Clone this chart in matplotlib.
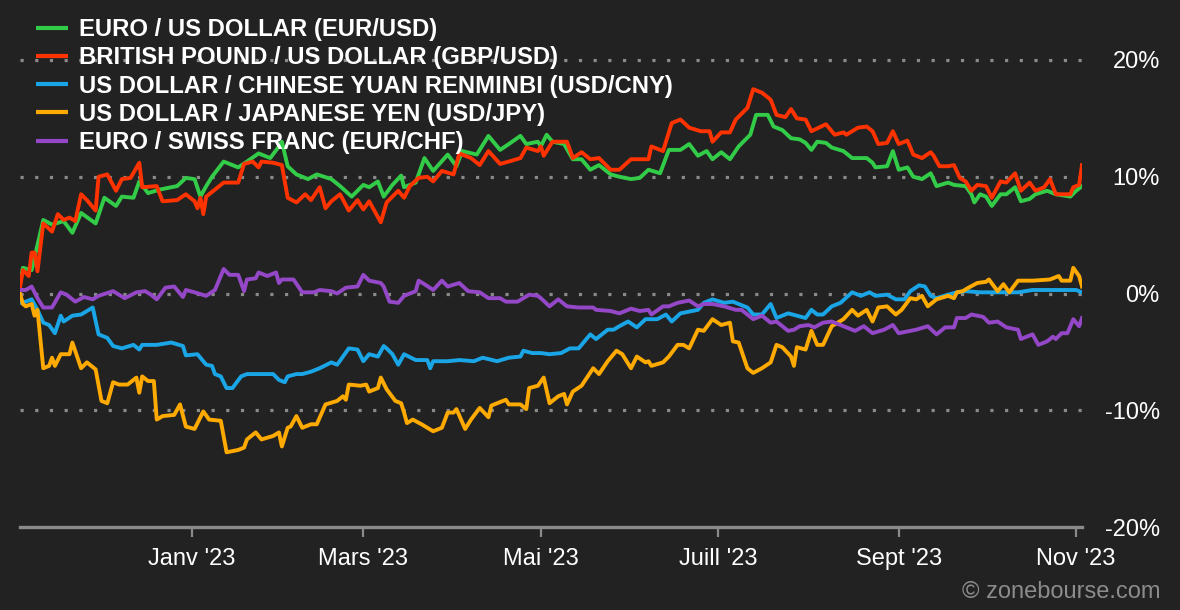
import pandas as pd
import matplotlib
matplotlib.use("Agg")
import matplotlib.pyplot as plt
from matplotlib.ticker import FuncFormatter

# --- DATA (percent change since start) ---
START = pd.Timestamp("2022-11-03")
END_DAY = 365

eur_usd_days = [0, 1, 4, 8, 11, 15, 18, 21, 26, 29, 33, 35, 39, 41, 44, 48, 54, 57, 60, 62,
                64, 66, 70, 75, 78, 82, 86, 89, 90, 92, 95, 99, 102, 107, 110, 114, 118, 120, 123, 125,
                128, 131, 132, 136, 139, 142, 147, 150, 152, 157, 161, 165, 168, 172, 174, 178, 179, 181, 183, 187,
                190, 193, 196, 199, 203, 206, 210, 213, 216, 220, 223, 227, 230, 233, 236, 238, 241, 244, 247, 251,
                253, 257, 259, 262, 265, 268, 270, 272, 274, 277, 279, 283, 286, 291, 293, 294, 298, 300, 302, 305,
                307, 310, 313, 315, 319, 321, 325, 327, 328, 330, 332, 334, 337, 339, 342, 344, 347, 349, 353, 356,
                361, 363, 365]
eur_usd_pct = [1.0, 2.2, 2.0, 6.3, 5.9, 6.2, 5.2, 6.9, 6.0, 8.2, 7.5, 8.3, 8.2, 9.6, 8.6, 8.9, 9.2, 9.9, 9.8, 8.3,
               9.2, 10.0, 11.3, 10.8, 11.3, 12.0, 11.6, 12.6, 13.0, 10.9, 10.2, 9.8, 10.2, 9.8, 9.2, 8.3, 9.3, 9.1, 9.6, 8.3,
               9.3, 10.1, 9.1, 9.5, 11.6, 10.5, 11.9, 10.9, 12.2, 11.9, 13.5, 12.3, 12.8, 13.5, 12.8, 13.0, 12.6, 13.6, 13.0, 12.8,
               11.5, 11.5, 10.6, 11.0, 10.2, 10.0, 9.8, 9.9, 10.6, 10.3, 12.3, 12.3, 12.8, 11.8, 12.2, 11.5, 12.1, 11.5, 12.6, 13.6,
               15.3, 15.3, 14.3, 14.0, 13.3, 13.2, 12.9, 12.3, 13.0, 12.9, 12.5, 12.2, 11.6, 11.6, 11.2, 10.8, 10.9, 12.2, 10.6, 10.8,
               10.0, 9.8, 10.3, 9.2, 9.5, 9.3, 9.2, 8.5, 7.8, 8.5, 8.3, 7.5, 8.5, 8.5, 9.1, 7.9, 8.1, 8.5, 8.8, 8.5,
               8.3, 8.8, 9.2]

gbp_usd_days = [0, 1, 3, 4, 5, 6, 8, 11, 13, 15, 17, 19, 21, 23, 26, 27, 30, 33, 35, 38,
                41, 42, 47, 49, 54, 57, 60, 61, 62, 63, 64, 67, 70, 75, 77, 80, 82, 83, 87, 90,
                92, 95, 98, 100, 103, 105, 107, 110, 113, 116, 118, 120, 124, 126, 130, 132, 134, 137, 140, 142,
                145, 149, 151, 155, 158, 161, 165, 168, 172, 174, 178, 179, 180, 183, 188, 190, 193, 196, 199, 203,
                206, 210, 212, 216, 217, 221, 224, 227, 230, 234, 237, 238, 241, 244, 246, 250, 252, 255, 258, 260,
                263, 265, 267, 270, 272, 277, 280, 283, 284, 288, 291, 293, 295, 298, 300, 302, 305, 307, 310, 313,
                314, 316, 319, 321, 323, 325, 327, 329, 332, 334, 337, 339, 342, 344, 347, 349, 352, 354, 356, 358,
                361, 362, 364, 365]
gbp_usd_pct = [0.5, 2.0, 1.5, 3.5, 3.5, 1.9, 6.0, 5.3, 6.8, 6.3, 6.5, 6.2, 8.5, 8.0, 7.1, 10.0, 10.2, 8.8, 9.8, 9.9,
               11.2, 9.1, 9.2, 7.9, 8.0, 8.5, 7.9, 7.3, 8.2, 6.8, 8.3, 8.9, 9.5, 9.5, 11.1, 11.3, 10.8, 11.3, 11.2, 11.0,
               8.2, 7.8, 8.5, 8.0, 9.1, 7.3, 7.9, 8.5, 7.1, 8.0, 7.2, 7.9, 6.1, 7.8, 8.8, 8.2, 9.2, 9.9, 10.0, 9.6,
               10.5, 10.2, 12.0, 11.6, 11.0, 12.2, 11.1, 11.3, 11.6, 12.5, 12.2, 12.6, 11.8, 13.0, 13.0, 11.6, 12.1, 11.5, 11.6, 10.6,
               10.6, 11.5, 11.5, 11.5, 12.6, 12.2, 14.6, 14.9, 14.2, 13.9, 13.9, 13.0, 13.8, 13.8, 14.9, 15.9, 17.5, 17.2, 16.6, 15.3,
               15.1, 15.8, 15.0, 14.9, 13.9, 14.5, 13.6, 13.8, 13.6, 14.2, 14.3, 13.9, 12.8, 12.9, 13.9, 12.8, 13.1, 11.9, 11.6, 12.1,
               11.8, 10.9, 10.9, 11.0, 9.9, 9.6, 8.8, 9.3, 9.2, 8.2, 9.6, 9.5, 10.3, 8.8, 9.5, 8.8, 9.1, 9.8, 8.5, 8.5,
               8.5, 9.1, 9.3, 11.0]

usd_cny_days = [0, 2, 4, 6, 8, 10, 12, 14, 15, 18, 21, 25, 27, 30, 32, 35, 39, 41, 42, 47,
                52, 56, 57, 61, 64, 66, 67, 69, 71, 73, 76, 78, 82, 87, 89, 91, 92, 95, 97, 100,
                103, 107, 109, 113, 116, 118, 120, 123, 125, 126, 128, 130, 132, 136, 140, 141, 142, 147, 151, 156,
                159, 164, 168, 172, 173, 176, 179, 182, 186, 189, 192, 196, 198, 202, 204, 206, 209, 212, 215, 219,
                222, 224, 227, 233, 235, 238, 242, 245, 246, 250, 252, 255, 258, 260, 264, 267, 270, 272, 274, 276,
                279, 282, 286, 289, 292, 294, 298, 301, 304, 306, 309, 311, 313, 315, 319, 322, 325, 330, 337, 343,
                348, 355, 360, 363, 365]
usd_cny_pct = [-0.8, -0.7, -0.5, -1.4, -2.5, -2.7, -3.4, -1.9, -2.4, -1.9, -1.8, -1.2, -3.5, -3.8, -4.5, -4.7, -4.4, -4.8, -4.4, -4.4,
               -4.2, -4.5, -5.3, -5.2, -6.1, -6.2, -6.9, -7.1, -8.1, -8.1, -7.1, -6.9, -6.9, -6.9, -7.4, -7.6, -7.1, -6.9, -6.9, -6.7,
               -6.4, -5.9, -6.1, -4.7, -4.8, -5.8, -5.2, -5.4, -4.5, -4.7, -5.2, -6.1, -5.2, -5.7, -5.7, -6.4, -5.8, -5.8, -5.7, -5.8,
               -5.5, -5.8, -5.5, -5.4, -4.9, -5.1, -5.1, -5.2, -5.1, -4.7, -4.7, -3.5, -3.9, -3.1, -3.1, -2.8, -2.4, -2.9, -2.2, -2.2,
               -1.8, -2.4, -1.7, -1.4, -0.8, -0.5, -0.8, -0.7, -0.8, -1.2, -1.8, -1.8, -0.9, -2.1, -1.7, -1.9, -2.1, -1.4, -1.8, -1.8,
               -1.1, -0.8, 0.1, -0.2, 0.1, -0.2, -0.1, -0.5, -0.5, 0.2, 0.7, 0.6, -0.2, -0.4, -0.1, 0.1, 0.2, 0.1, 0.1, 0.1,
               0.3, 0.3, 0.3, 0.3, 0.1]

usd_jpy_days = [0, 1, 2, 4, 5, 6, 8, 10, 11, 12, 14, 17, 18, 21, 23, 26, 28, 30, 32, 34,
                37, 40, 41, 42, 44, 46, 47, 49, 53, 55, 57, 60, 63, 65, 69, 71, 75, 77, 78, 81,
                83, 87, 89, 90, 92, 93, 95, 97, 100, 102, 105, 109, 111, 112, 113, 117, 119, 120, 123, 124,
                126, 129, 131, 132, 133, 135, 138, 140, 142, 145, 147, 149, 150, 153, 155, 158, 161, 162, 166, 167,
                168, 172, 174, 175, 178, 180, 182, 185, 187, 188, 190, 193, 197, 199, 202, 205, 207, 210, 212, 215,
                216, 217, 221, 223, 226, 228, 230, 233, 235, 238, 241, 244, 245, 247, 250, 252, 255, 258, 260, 262,
                265, 266, 267, 270, 272, 274, 276, 279, 283, 286, 288, 291, 293, 295, 298, 301, 303, 306, 308, 310,
                312, 315, 319, 321, 322, 324, 326, 329, 332, 333, 336, 338, 340, 343, 348, 354, 357, 358, 361, 362,
                364, 365]
usd_jpy_pct = [0.0, -0.9, -1.1, -0.9, -1.9, -1.4, -6.4, -6.2, -5.5, -6.2, -5.2, -5.2, -4.2, -6.4, -5.9, -6.5, -9.2, -9.4, -7.6, -7.8,
               -7.8, -7.2, -8.5, -7.1, -7.5, -7.5, -10.8, -10.5, -10.4, -9.5, -11.4, -11.6, -10.1, -10.8, -10.9, -13.6, -13.4, -13.2, -12.5, -11.9,
               -12.5, -12.2, -11.9, -13.1, -11.5, -11.4, -10.5, -11.5, -11.2, -11.2, -9.5, -9.2, -8.8, -9.1, -7.8, -7.9, -7.8, -8.4, -8.1, -7.2,
               -8.2, -9.2, -9.4, -10.2, -11.1, -10.8, -11.2, -11.5, -11.8, -11.5, -10.2, -10.2, -9.9, -11.6, -10.8, -9.8, -10.6, -9.6, -9.2, -9.1,
               -9.5, -9.5, -9.9, -8.1, -7.9, -7.2, -9.4, -8.8, -8.6, -9.5, -8.4, -7.9, -6.4, -6.9, -5.8, -4.9, -5.2, -6.4, -5.4, -5.9,
               -5.8, -6.2, -5.9, -5.4, -4.4, -4.4, -4.7, -3.1, -3.2, -2.2, -2.7, -2.5, -4.1, -4.2, -6.4, -6.8, -6.4, -5.9, -4.4, -4.6,
               -5.4, -6.2, -4.6, -4.8, -3.2, -4.4, -4.4, -2.8, -2.2, -1.4, -1.9, -1.4, -2.4, -1.2, -1.1, -1.8, -1.4, -0.4, -0.5, -0.2,
               -1.1, -0.5, -0.2, -0.4, 0.1, 0.2, 0.5, 0.9, 1.0, 1.2, 0.2, 0.8, 0.1, 1.1, 1.1, 1.2, 1.5, 1.1, 1.1, 2.2,
               1.5, 0.6]

eur_chf_days = [0, 2, 4, 6, 8, 11, 14, 16, 19, 22, 25, 27, 32, 34, 36, 40, 43, 45, 47, 50,
                53, 56, 57, 60, 64, 67, 70, 72, 75, 77, 78, 81, 82, 85, 88, 89, 90, 94, 97, 101,
                103, 107, 109, 112, 116, 118, 120, 124, 125, 127, 130, 132, 136, 137, 139, 142, 145, 147, 151, 154,
                158, 161, 165, 167, 171, 175, 178, 179, 182, 185, 188, 192, 197, 198, 203, 206, 210, 213, 216, 217,
                221, 223, 226, 230, 233, 235, 238, 242, 246, 248, 252, 255, 258, 260, 264, 266, 268, 271, 273, 276,
                279, 283, 287, 290, 293, 297, 300, 302, 306, 308, 312, 315, 318, 321, 322, 325, 327, 331, 333, 336,
                339, 343, 344, 348, 350, 353, 355, 356, 358, 360, 362, 364, 365]
eur_chf_pct = [0.3, 0.3, 0.6, -0.4, -1.2, -1.2, 0.1, -0.1, -0.7, -0.3, -0.5, -0.2, 0.2, -0.1, -0.4, 0.1, 0.2, -0.1, -0.5, 0.5,
               0.6, -0.3, 0.3, 0.1, -0.2, 0.3, 2.1, 1.6, 1.6, 0.2, 1.2, 1.3, 1.8, 1.5, 1.8, 0.9, 1.2, 1.2, 0.1, 0.1,
               0.3, 0.2, 0.0, 0.5, 0.6, 1.6, 1.1, 0.9, 0.6, -0.7, -0.8, -0.2, 0.2, 1.1, 0.8, 0.3, 1.1, 0.6, 0.9, 0.2,
               0.1, -0.4, -0.4, -0.7, -0.7, -0.1, -0.2, -0.4, -1.1, -0.5, -1.1, -1.2, -1.2, -1.4, -1.5, -1.7, -1.3, -1.5, -1.4, -1.8,
               -1.1, -1.1, -0.8, -0.6, -1.1, -0.9, -0.9, -1.1, -1.4, -1.4, -2.2, -1.9, -2.5, -2.4, -3.2, -3.1, -2.8, -2.7, -2.9, -2.5,
               -2.4, -2.8, -3.2, -2.8, -3.4, -3.1, -2.7, -3.4, -3.2, -3.1, -2.8, -3.5, -2.9, -2.9, -2.1, -2.1, -1.8, -2.0, -2.5, -2.4,
               -2.9, -3.1, -3.9, -3.5, -4.4, -4.1, -3.7, -3.9, -3.4, -3.4, -2.2, -2.8, -2.1]

series_labels = ["EURO / US DOLLAR (EUR/USD)",
                 "BRITISH POUND / US DOLLAR (GBP/USD)",
                 "US DOLLAR / CHINESE YUAN RENMINBI (USD/CNY)",
                 "US DOLLAR / JAPANESE YEN (USD/JPY)",
                 "EURO / SWISS FRANC (EUR/CHF)"]
series_colors = ["#33cc48", "#ff3300", "#1aa6e6", "#ffaa00", "#9448c8"]

tick_dates = ["2023-01-01", "2023-03-01", "2023-05-01", "2023-07-01", "2023-09-01", "2023-11-01"]
tick_labels = ["Janv '23", "Mars '23", "Mai '23", "Juill '23", "Sept '23", "Nov '23"]
y_ticks = [-20, -10, 0, 10, 20]

# --- STYLE ---
BG = "#222222"
GRID = "#8a8a8a"
plt.rcParams["font.family"] = ["Liberation Sans", "DejaVu Sans"]
plt.rcParams["axes.unicode_minus"] = False


def to_dates(days):
    return START + pd.to_timedelta(days, unit="D")


fig = plt.figure(figsize=(11.8, 6.1), dpi=100, facecolor=BG)
ax = fig.add_axes([20 / 1180, 83 / 610, 1062 / 1180, 467 / 610])
ax.set_facecolor(BG)

# dotted horizontal guides
for y in [-10, 0, 10, 20]:
    ax.axhline(y, color=GRID, lw=2.3, ls=(0, (1, 3.6)), zorder=1, clip_on=False)

all_series = [(eur_usd_days, eur_usd_pct), (gbp_usd_days, gbp_usd_pct), (usd_cny_days, usd_cny_pct),
              (usd_jpy_days, usd_jpy_pct), (eur_chf_days, eur_chf_pct)]
handles = []
for (days, pct), col, lab in zip(all_series, series_colors, series_labels):
    h, = ax.plot(to_dates(days), pct, color=col, lw=2.8, label=lab, zorder=3,
                 solid_joinstyle="round")
    handles.append(h)

ax.set_xlim(START, START + pd.Timedelta(days=END_DAY))
ax.set_ylim(-20, 20)

for s in ["top", "right", "left"]:
    ax.spines[s].set_visible(False)
ax.spines["bottom"].set_color(GRID)
ax.spines["bottom"].set_linewidth(2.4)

ax.set_xticks(pd.to_datetime(tick_dates))
ax.set_xticklabels(tick_labels)
ax.tick_params(axis="x", colors=GRID, length=7, width=1.6, pad=8, labelsize=17, labelcolor="white")

ax.yaxis.tick_right()
ax.set_yticks(y_ticks)
ax.yaxis.set_major_formatter(FuncFormatter(lambda v, p: f"{v:.0f}%"))
ax.tick_params(axis="y", length=0, pad=56, labelsize=17, labelcolor="white")
for t in ax.get_yticklabels():
    t.set_horizontalalignment("right")

leg = fig.legend(handles=handles, loc="upper left", bbox_to_anchor=(36 / 1180, 1 - 18 / 610),
                 frameon=False, prop={"size": 17.2, "weight": "bold"}, handlelength=1.33,
                 handletextpad=0.47, labelspacing=0.22, borderpad=0, borderaxespad=0)
for t in leg.get_texts():
    t.set_color("white")
for h in leg.legend_handles:
    h.set_linewidth(3)
    h.set_solid_capstyle("butt")

fig.text(1160 / 1180, 1 - 592 / 610, "\u00a9 zonebourse.com", color="#8c8c8c",
         fontsize=17, ha="right", va="center")

fig.savefig("out.png", dpi=100, facecolor=BG)
